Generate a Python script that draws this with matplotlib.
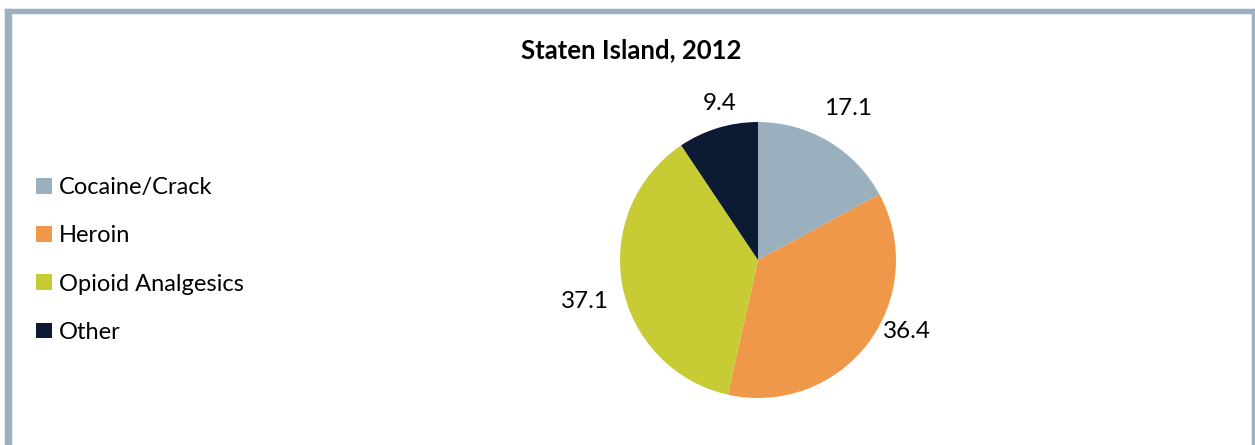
import numpy as np
import matplotlib.pyplot as plt
from matplotlib.patches import Patch, Rectangle

plt.rcParams['font.family'] = ['Lato', 'DejaVu Sans']

# Drug involvement in overdose deaths, Staten Island 2012 (percent)
categories = ['Cocaine/Crack', 'Heroin', 'Opioid Analgesics', 'Other']
values = [17.1, 36.4, 37.1, 9.4]
colors = ['#9BB0BF', '#F0984A', '#C7CB34', '#0C1B33']

# label placement: radial distance (in radii) and angular nudge (degrees)
label_dist = [1.28, 1.20, 1.29, 1.17]
label_nudge = [0, 11.5, 3, -3.3]

W, H = 1255, 445
fig = plt.figure(figsize=(W / 100, H / 100), dpi=100)

# frame around the chart (open at the bottom)
frame = '#9BB1C0'
fig.patches.append(Rectangle((5 / W, 0), 6 / W, 1 - 9 / H, transform=fig.transFigure, color=frame))
fig.patches.append(Rectangle((5 / W, 1 - 13 / H), 1 - 5 / W, 4 / H, transform=fig.transFigure, color=frame))
fig.patches.append(Rectangle((1 - 3 / W, 0), 3 / W, 1 - 9 / H, transform=fig.transFigure, color=frame))

fig.text(631 / W, 1 - 50 / H, 'Staten Island, 2012', ha='center', va='center',
         fontsize=18.5, fontweight='bold', color='black')

cx, cy, r = 758, 260, 138
ax = fig.add_axes([(cx - r) / W, (H - cy - r) / H, 2 * r / W, 2 * r / H])
wedges, _ = ax.pie(values, colors=colors, startangle=90, counterclock=False,
                   wedgeprops=dict(linewidth=0))
ax.set_xlim(-1, 1)
ax.set_ylim(-1, 1)
ax.set_aspect('equal')
ax.axis('off')

for w, v, d, n in zip(wedges, values, label_dist, label_nudge):
    ang = np.deg2rad((w.theta1 + w.theta2) / 2 + n)
    ax.text(d * np.cos(ang), d * np.sin(ang), f'{v:.1f}', ha='center', va='center',
            fontsize=17.5, color='black', clip_on=False)

handles = [Patch(facecolor=c, edgecolor='none') for c in colors]
fig.legend(handles, categories, loc='center left', bbox_to_anchor=(27 / W, 1 - 260 / H),
           frameon=False, fontsize=17, handlelength=0.65, handleheight=0.65,
           handletextpad=0.3, labelspacing=1.15, borderaxespad=0)

fig.savefig('out.png', dpi=100, facecolor='white')
